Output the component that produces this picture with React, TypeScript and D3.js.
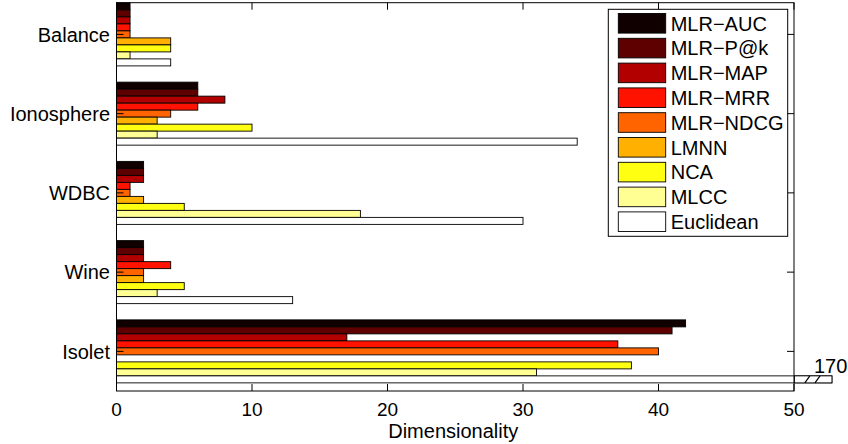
import * as d3 from 'd3';

const datasets = ['Balance', 'Ionosphere', 'WDBC', 'Wine', 'Isolet'];
const methods = ['MLR−AUC', 'MLR−P@k', 'MLR−MAP', 'MLR−MRR', 'MLR−NDCG', 'LMNN', 'NCA', 'MLCC', 'Euclidean'];
const colors = ['#100000', '#5e0000', '#b20000', '#ff1200', '#ff6400', '#ffb000', '#ffff12', '#ffff94', '#ffffff'];

// dimensionality per method, one entry per dataset (Balance .. Isolet)
const mlrAuc = [1, 6, 2, 2, 42];
const mlrPk = [1, 6, 2, 2, 41];
const mlrMap = [1, 8, 2, 2, 17];
const mlrMrr = [1, 6, 1, 4, 37];
const mlrNdcg = [1, 4, 1, 2, 40];
const lmnn = [4, 3, 2, 2, 0];
const nca = [4, 10, 5, 5, 38];
const mlcc = [1, 3, 18, 3, 31];
const euclidean = [4, 34, 30, 13, 170];

const series = [mlrAuc, mlrPk, mlrMap, mlrMrr, mlrNdcg, lmnn, nca, mlcc, euclidean];
const xTicks = [0, 10, 20, 30, 40, 50];

const W = 848;
const H = 444;
const FONT = '"Liberation Sans", Arial, Helvetica, sans-serif';

export default function App() {
  const left = 116.5;
  const right = 794;
  const top = 2.7;
  const bottom = 391;

  const x = d3.scaleLinear().domain([0, 50]).range([left, right]);
  const y = d3.scaleLinear().domain([0.6, 5.5]).range([top, bottom]);
  const unit = y(2) - y(1);
  const groupWidth = 0.795;
  const barH = (groupWidth / methods.length) * unit;
  const xMax = 52.8; // where the broken bar is cut off

  const bars: { key: string; x0: number; x1: number; y0: number; fill: string; broken: boolean }[] = [];
  series.forEach((vals, k) => {
    vals.forEach((v, i) => {
      if (!v) return;
      const c = y(i + 1);
      const y0 = c - (groupWidth / 2) * unit + k * barH;
      const broken = v > 50;
      bars.push({
        key: `${k}-${i}`,
        x0: x(0),
        x1: x(broken ? xMax : v),
        y0,
        fill: colors[k],
        broken,
      });
    });
  });

  const brokenBars = bars.filter((b) => b.broken);

  return (
    <svg
      width={W}
      height={H}
      style={{ position: 'absolute', left: 0, top: 0, background: '#fff' }}
      fontFamily={FONT}
    >
      {/* bars */}
      {bars.map((b) => (
        <rect
          key={b.key}
          x={b.x0}
          y={b.y0}
          width={b.x1 - b.x0}
          height={barH}
          fill={b.fill}
          stroke="#000"
          strokeWidth={0.9}
        />
      ))}

      {/* axes box */}
      <rect x={left} y={top} width={right - left} height={bottom - top} fill="none" stroke="#000" strokeWidth={1} />

      {/* x ticks top and bottom */}
      {xTicks.map((t) => (
        <g key={t}>
          <line x1={x(t)} x2={x(t)} y1={bottom} y2={bottom - 7} stroke="#000" />
          <line x1={x(t)} x2={x(t)} y1={top} y2={top + 7} stroke="#000" />
          <text x={x(t)} y={416} textAnchor="middle" fontSize={19} fill="#000">
            {t}
          </text>
        </g>
      ))}

      {/* y ticks and category labels */}
      {datasets.map((d, i) => (
        <g key={d}>
          <line x1={left} x2={left + 7} y1={y(i + 1)} y2={y(i + 1)} stroke="#000" />
          <line x1={right} x2={right - 7} y1={y(i + 1)} y2={y(i + 1)} stroke="#000" />
          <text x={110} y={y(i + 1)} dy="0.36em" textAnchor="end" fontSize={20} fill="#000">
            {d}
          </text>
        </g>
      ))}

      {/* break marks on the overflowing bar */}
      {brokenBars.map((b) => (
        <g key={`brk-${b.key}`}>
          <rect x={right + 0.5} y={b.y0} width={b.x1 - right - 0.5} height={barH} fill={b.fill} stroke="#000" strokeWidth={0.9} />
          {[x(50.8), x(51.55)].map((bx, j) => (
            <line key={j} x1={bx} y1={b.y0 + barH} x2={bx + 5} y2={b.y0} stroke="#000" strokeWidth={1.2} />
          ))}
          <text x={814} y={b.y0 - 3} fontSize={20} fill="#000">
            {d3.max(euclidean)}
          </text>
        </g>
      ))}

      <text x={(left + right) / 2 - 2} y={438} textAnchor="middle" fontSize={20} fill="#000">
        Dimensionality
      </text>

      {/* legend */}
      <g>
        <rect x={608.3} y={9.3} width={179.4} height={227} fill="#fff" stroke="#000" strokeWidth={1} />
        {methods.map((m, k) => {
          const cy = 23.3 + k * 24.8;
          return (
            <g key={m}>
              <rect x={618.3} y={cy - 9.8} width={47.4} height={19.6} fill={colors[k]} stroke="#000" strokeWidth={0.9} />
              <text x={670.7} y={cy} dy="0.36em" fontSize={20} fill="#000">
                {m}
              </text>
            </g>
          );
        })}
      </g>
    </svg>
  );
}
